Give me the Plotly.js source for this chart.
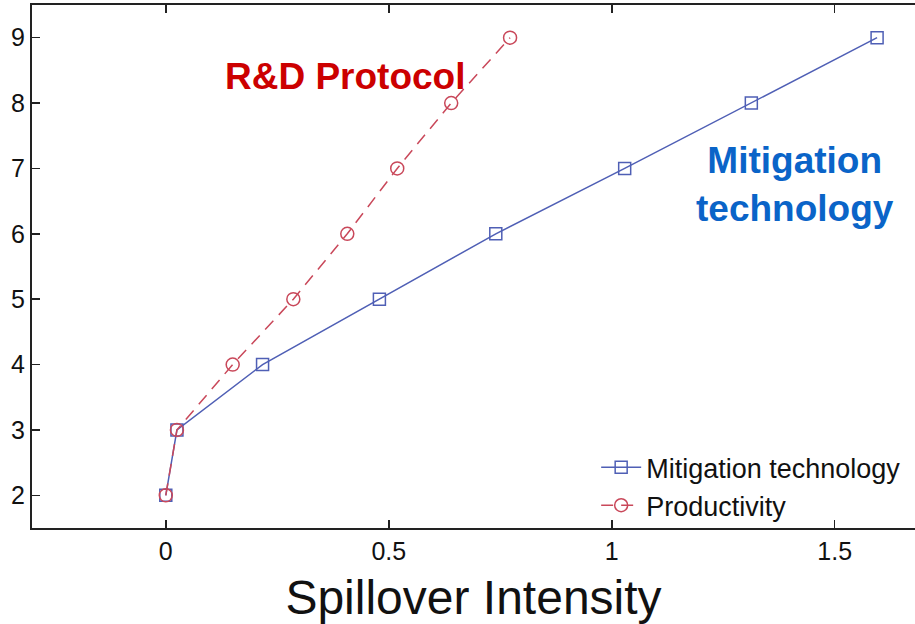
<!DOCTYPE html>
<html>
<head>
<meta charset="utf-8">
<script src="https://cdn.plot.ly/plotly-3.0.1.min.js"></script>
<style>html,body{margin:0;padding:0;background:#fff;}#chart{width:915px;height:624px;}</style>
</head>
<body>
<div id="chart"></div>
<script>
var mitigationX = [0, 0.025, 0.217, 0.479, 0.74, 1.029, 1.313, 1.595];
var mitigationY = [2, 3, 4, 5, 6, 7, 8, 9];
var productivityX = [0, 0.025, 0.15, 0.286, 0.407, 0.519, 0.64, 0.772];
var productivityY = [2, 3, 4, 5, 6, 7, 8, 9];
var xTicks = [0, 0.5, 1, 1.5];
var xTickText = ['0', '0.5', '1', '1.5'];
var yTicks = [2, 3, 4, 5, 6, 7, 8, 9];

var blue = '#4f5fb5';
var red = '#c9485a';

var traces = [
  {x: mitigationX, y: mitigationY, name: 'Mitigation technology', mode: 'lines+markers',
   line: {color: blue, width: 1.5},
   marker: {symbol: 'square-open', size: 12, color: blue, line: {width: 1.5}}},
  {x: productivityX, y: productivityY, name: 'Productivity', mode: 'lines+markers',
   line: {color: red, width: 1.5, dash: '12px,8px'},
   marker: {symbol: 'circle-open', size: 13, color: red, line: {width: 1.5}}}
];

var layout = {
  width: 915, height: 624,
  margin: {l: 32, r: 0, t: 5, b: 96},
  paper_bgcolor: '#fff', plot_bgcolor: '#fff',
  font: {family: 'Liberation Sans, Arial, sans-serif', color: '#111', size: 25},
  showlegend: true,
  legend: {x: 0.99, xanchor: 'right', y: -0.004, yanchor: 'bottom', bgcolor: 'rgba(0,0,0,0)',
           font: {size: 27, color: '#111'}, tracegroupgap: 0, itemwidth: 40},
  xaxis: {range: [-0.3, 1.68], tickvals: xTicks, ticktext: xTickText, ticks: 'inside', ticklen: 8,
          tickcolor: '#222', tickwidth: 1.5, showgrid: false, zeroline: false, showline: true,
          linecolor: '#222', linewidth: 2, mirror: 'ticks', tickfont: {size: 25, color: '#111'},
          title: {text: 'Spillover Intensity', font: {size: 48, color: '#111'}, standoff: 16}},
  yaxis: {range: [1.5, 9.5], tickvals: yTicks, ticks: 'inside', ticklen: 8,
          tickcolor: '#222', tickwidth: 1.5, showgrid: false, zeroline: false, showline: true,
          linecolor: '#222', linewidth: 2, mirror: false, tickfont: {size: 25, color: '#111'}},
  annotations: [
    {x: 0.403, y: 8.4, xref: 'x', yref: 'y', text: '<b>R&D Protocol</b>', showarrow: false,
     font: {size: 37, color: '#cc0000'}, xanchor: 'center', yanchor: 'middle'},
    {x: 1.412, y: 6.757, xref: 'x', yref: 'y', text: '<b>Mitigation<br>technology</b>', showarrow: false,
     font: {size: 37, color: '#0a64c8'}, xanchor: 'center', yanchor: 'middle'}
  ]
};

Plotly.newPlot('chart', traces, layout, {displayModeBar: false, staticPlot: true});
</script>
</body>
</html>
